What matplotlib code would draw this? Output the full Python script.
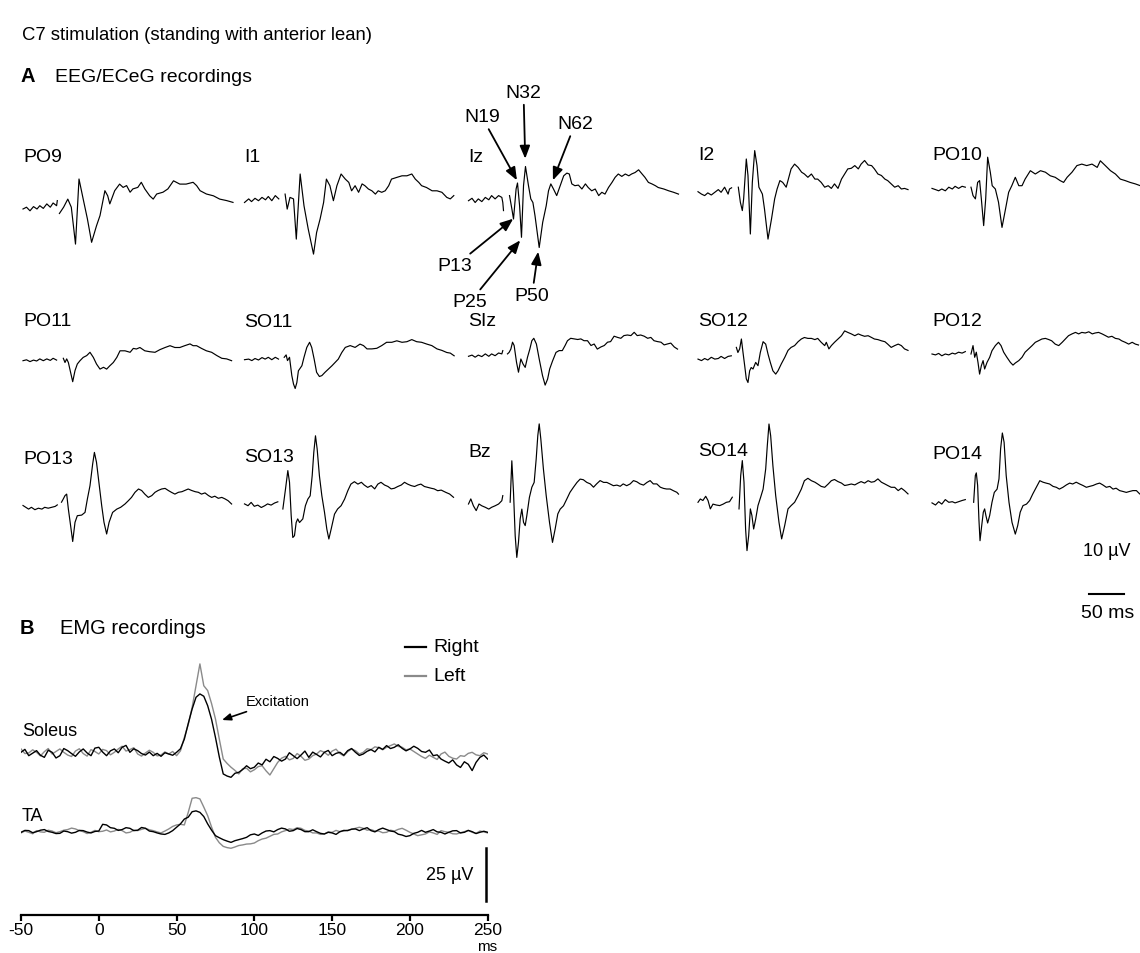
import numpy as np
import matplotlib.pyplot as plt
from matplotlib.lines import Line2D

# C7 stimulation: EEG/ECeG (A) and EMG (B) traces
plt.rcParams['font.family'] = ['Liberation Sans', 'DejaVu Sans']
nan = np.nan

# ---- EEG/ECeG traces: (time ms, amplitude uV), negative = up ----
PO9 = [(-50,0),(-45,-0.6),(-40,0.6),(-35,-0.8),(-30,0),(-26,-1.1),(-21,-0.2),(-16,-1.7),(-11,-0.6),(-7,-2),(-2,-1.1),(-1,-2.8),(0,nan),
       (2,1.5),(8,-0.6),(14,-3.3),(19,-0.6),(25,11.7),(30,-10),(36,-3.3),(42,3.3),(48,11.1),(55,5.6),(60,2.2),(67,-6.1),(71,-4.4),
       (74,-1.7),(81,-6.1),(88,-8.3),(93,-7.2),(98,-7.8),(103,-5.6),(107,-6.7),(114,-7.2),(119,-8.9),(124,-6.7),(131,-4.4),(136,-3.3),
       (141,-5),(150,-5.6),(157,-6.7),(165,-9.4),(174,-8.3),(183,-8.3),(193,-8.9),(198,-7.8),(203,-6.1),(212,-5),(222,-4.4),(231,-3.3),
       (241,-2.8),(250,-2.2)]
I1 = [(-50,0.6),(-44,-0.6),(-40,0.3),(-35,-0.8),(-30,0),(-25,-1.1),(-20,-0.3),(-16,-1.4),(-11,0),(-6,-1.7),(-1,-0.6),(0,nan),
      (8,-2.2),(11,2.8),(15,-1.1),(20,-0.6),(24,12.8),(29.5,-8.9),(35,1.7),(41,9.4),(48.6,17.8),(53,10.6),(58,6.1),(63,0.6),(67,-7.2),
      (72,-5),(77,0),(82,-5),(88,-8.9),(94,-7.2),(99,-6.1),(103,-3.3),(108,-5),(113,-2.8),(118,-5.6),(122,-5),(127,-3.9),(132,-3.3),
      (137,-2.2),(141,-3.3),(146,-2.8),(151,-3.3),(156,-5),(160,-7.2),(168,-7.8),(175,-8.3),(182,-8.3),(189,-8.9),(194,-7.2),(199,-6.1),
      (203,-5),(210,-4.4),(218,-3.3),(225,-3.3),(232,-2.8),(239,-1.1),(244,-0.6),(249,-1.7)]
Iz = [(-50,0),(-45,-0.8),(-40.5,0.6),(-36,-0.6),(-31,0.3),(-26,-1.1),(-21,-0.3),(-17,-1.7),(-12,-0.6),(-7,-1.7),(-2.4,-1.1),(-1,0.6),
      (0,3.3),(0.5,nan),(8.6,-1.7),(12,2.8),(14.3,6.1),(18,-3.9),(20,-5.9),(23,1.7),(25.7,12.2),(28.6,-5),(31.4,-11.4),(35.7,-5),
      (39,-0.6),(42,0.6),(45,5),(51,15.6),(56,7.2),(61,1.7),(64.3,-3.3),(67.6,-5.6),(71.4,-3.9),(76,-1.7),(81,-5),(86,-8.3),(90.5,-9.2),
      (94,-8.9),(97.6,-5.6),(102,-5),(107,-5.2),(112,-3.9),(117,-5.6),(121,-4.4),(126,-3.3),(131,-3.9),(136,-1.7),(140.5,-2.8),
      (145,-2.2),(150,-4.4),(155,-6.1),(159.5,-7.8),(164,-8.9),(169,-8.1),(174,-8.9),(179,-8.3),(183,-8.9),(188,-9.4),(193,-10.3),
      (198,-8.9),(202,-7.8),(207,-6.1),(212,-5.6),(217,-5),(221,-4.4),(229,-3.9),(236,-3.3),(243,-2.8),(250,-2.2)]
I2 = [(-50,-0.2),(-45,0.6),(-40.5,1.1),(-36,0.2),(-31,0.9),(-26,0),(-21,-0.9),(-17,0),(-12,-1.7),(-7,0.6),(-5,-1.1),(-2,-1.5),(0,nan),
      (7.6,-1.7),(10.5,3.3),(13.3,6.1),(15.2,2.2),(19,-11.1),(21.4,-5.6),(24.8,13.9),(27.6,-3.3),(31,-13.9),(34.3,-8.9),(37,-1.7),
      (42,0.6),(45,5.6),(50,15.6),(55,8.9),(59.5,2.2),(63,-1.1),(67,-3.9),(71,-3.3),(76,-1.7),(83,-7.8),(88,-9.4),(93,-8.3),(98,-6.7),
      (102,-6.1),(107,-5),(112,-6.1),(117,-4.4),(121,-4.4),(126,-3.3),(131,-1.7),(136,-2.2),(140.5,-1.3),(145,-2.8),(150,-1.3),
      (155,-4.4),(159.5,-6.1),(164,-7.8),(169,-8),(174,-8.9),(179,-7.8),(183,-9.4),(188,-10.6),(193,-9.1),(198,-8.9),(202,-7.8),
      (207,-6.1),(212,-5.6),(217,-4.4),(221,-3.9),(226,-2.8),(231,-1.7),(236,-2.2),(240.5,-1.1),(245,-1.3),(250,-0.9)]
PO10 = [(-50,-0.2),(-45,0.2),(-40.5,0.6),(-36,0),(-31,0.6),(-26,-0.6),(-21,0),(-17,-0.9),(-12,-0.2),(-7,-0.9),(-2.4,-0.6),(0,nan),
        (5.7,-0.6),(8.6,2.2),(12,3.3),(15.2,-2.2),(18,-2.8),(20.5,3.3),(23.8,12.2),(26.7,3.3),(29.5,-10.6),(33.3,-5.6),(36,-1.1),
        (40.5,0),(45,4.4),(50,12.8),(55,6.7),(59.5,1.1),(64,-1.1),(69,-3.9),(74,-1.1),(78.6,-1.1),(83,-3.3),(90.5,-6.1),(97.6,-5),
        (105,-6.1),(112,-5.6),(119,-4.4),(126,-3.9),(133,-2.8),(138,-2.2),(143,-3.9),(150,-5.6),(157,-7.8),(164,-8.3),(171,-7.8),
        (178.6,-8.3),(186,-7.2),(190.5,-9.4),(197.6,-7.8),(205,-6.1),(212,-5),(219,-3.3),(226,-2.8),(233,-2.2),(240.5,-1.7),(247.6,-1.1)]
PO11 = [(-50,0),(-45,-0.3),(-40,0.3),(-35,-0.2),(-30.5,0.1),(-26,-0.6),(-21,0),(-16,-0.6),(-11,-0.1),(-7,-0.8),(-2,-0.2),(0,nan),
        (7.6,-0.8),(10,0.6),(12.4,-0.6),(14.8,0.6),(18,3.9),(21,7),(24.3,3.3),(27.6,1.1),(31.4,0),(36,-1.1),(41,-1.7),(45.7,-2.8),
        (50.5,-1.1),(55,1.1),(60,2.8),(65,2.2),(69.5,2.8),(74,1.7),(79,0.6),(84,-1.1),(88.6,-3.3),(95.7,-3.3),(103,-2.8),(107.6,-4.1),
        (112,-3.9),(117,-4.4),(124,-3.3),(131,-3),(138.6,-2.8),(145.7,-3.7),(153,-4.4),(160,-5),(167,-4.4),(174,-4.4),(181,-5),
        (188.6,-5.6),(193,-5),(198,-5),(205,-4.1),(212,-3.3),(219.5,-2.8),(227,-1.7),(234,-0.8),(241,-0.6),(248,0)]
SO11 = [(-50,0),(-44,-0.2),(-39.5,0.3),(-35,-0.4),(-30,0.1),(-25,-0.7),(-20.5,-0.2),(-16,-0.8),(-11,0),(-6,-0.8),(-1.4,-0.2),(0,nan),
        (6.7,-0.8),(9.5,-1.6),(11.4,0.3),(14.3,-0.8),(17.6,5.3),(20,8.1),(22.4,9.6),(24.8,7.6),(27,3.7),(32,2),(35,-0.8),(39,-4.1),
        (43,-5.8),(46,-4.1),(49.5,-0.2),(53,4.2),(57,5.6),(60.5,5.3),(65,4.2),(70,3.1),(75,2),(79.5,0.9),(84,-0.2),(89,-2.4),(94,-4.1),
        (101,-4.7),(108,-4.1),(115,-5.2),(120,-4.7),(125,-3.6),(132,-3.6),(139,-3.8),(146,-4.7),(153,-5.8),(160.5,-5.8),(167.6,-6.3),
        (175,-5.8),(182,-6),(189,-6.7),(196,-6),(203,-5.8),(210.5,-5.2),(217.6,-4.7),(225,-3.6),(232,-3.1),(239,-2.4),(244,-2.2),(249.5,-1.3)]
SIz = [(-50,0),(-45,-0.4),(-40.5,0.3),(-36,-0.4),(-31,0.1),(-26,-0.8),(-21,0),(-17,-0.8),(-12,-0.2),(-7,-1.1),(-2.4,-0.8),(-1,-1.9),
       (0,nan),(5.7,-0.8),(8,-1.3),(10.5,-2.4),(12.9,-4.7),(15.2,-3.6),(18.6,2),(21.4,5.3),(24.8,0.9),(28,2.6),(31,3.7),(34.3,0.3),
       (37.6,-2.4),(40.5,-5.2),(43.3,-6),(47,-4.1),(51,0.9),(55.7,6.4),(59.5,9.6),(63,7.6),(66,4.2),(70,1.6),(75,-1.3),(79.5,-1.9),
       (84,-1.9),(88,-3.6),(91.4,-5.2),(96,-6),(101,-5.8),(106,-5.6),(110.5,-5.8),(115,-5.2),(120,-5.2),(125,-3.6),(129.5,-4.1),
       (134,-2.4),(139,-3.1),(144,-3.6),(148.6,-4.7),(153,-4.9),(158,-6.7),(163,-6.3),(167.6,-6),(172,-6.9),(177,-7.1),(182,-6.9),
       (186.7,-8),(191,-6.9),(196,-7.1),(201,-6.7),(206,-6),(210.5,-6.3),(215,-5.2),(220,-4.9),(225,-4.7),(229.5,-3.8),(234,-4.1),
       (239,-4.4),(244,-3.1),(248.6,-2.4)]
SO12 = [(-50,-0.2),(-45,0.3),(-40.5,-0.4),(-36,0.1),(-31,-0.8),(-26,-0.2),(-21,-0.4),(-17,-1.1),(-12,-0.4),(-7,-1.1),(-2.4,-1.3),(0,nan),
        (4.8,-4.1),(7,-2.4),(9.5,-3.6),(12,-6.9),(14.3,-2.4),(16.7,2),(19,6.4),(21.4,7.6),(23.8,3.7),(26,2.6),(28.6,3.1),(32.4,0.9),
        (35.7,2),(39,-2.4),(43,-6),(46.7,-5.2),(50,-1.9),(53.3,0.9),(57,3.7),(61,4.8),(64.3,3.7),(69,1.4),(74,-0.8),(78.6,-3.1),(83,-4.1),
        (88,-4.7),(93,-6),(97.6,-6.9),(102,-7.4),(107,-7.1),(112,-7.1),(117,-6.7),(121,-7.1),(126,-5.8),(131,-4.7),(133.3,-5.8),(137,-3.6),
        (140.5,-4.7),(145,-5.8),(150,-6.9),(155,-8),(159.5,-9.6),(164,-9.1),(169,-8.6),(174,-8),(179,-8.6),(183,-8.2),(188,-7.8),
        (193,-8),(198,-7.4),(202,-6.9),(207,-6.7),(212,-6.3),(217,-6),(221,-5.2),(226,-4.1),(231,-4.7),(236,-5.2),(240.5,-4.7),
        (245,-3.6),(250,-3.1)]
PO12 = [(-50,0),(-45,0.3),(-40.5,-0.2),(-36,0.6),(-31,0),(-26,0.3),(-21,-0.3),(-17,0),(-12,-0.6),(-7,-0.3),(-2.4,-0.8),(0,nan),
        (5.7,0),(8.6,-2.8),(11,1.1),(13.3,-0.6),(15.7,2.8),(18,6.7),(20.5,3.9),(23,2.2),(25.2,5),(28.6,2.8),(32.4,1.1),(35.7,-1.1),
        (40.5,-2.8),(45,-3.9),(48.6,-2.8),(52.4,-0.6),(57,1.1),(62,2.8),(65.7,3.7),(69,3),(74,2.2),(78.6,1.1),(83,-0.6),(88,-1.7),
        (93,-2.8),(97.6,-3.9),(102,-4.4),(107,-5),(112,-5.2),(117,-4.8),(121,-4.4),(126,-3.3),(131,-2.8),(136,-3.9),(140.5,-5),
        (145,-6.1),(150,-6.7),(155,-7.2),(159.5,-6.7),(164,-7.2),(169,-7),(174,-7.4),(179,-6.7),(183,-7),(188,-7.2),(193,-6.7),
        (198,-6.1),(202,-5.6),(207,-5.9),(212,-5.2),(217,-5),(221,-4.4),(226,-3.9),(231,-3.3),(236,-3.9),(240.5,-3.3),(245,-3)]
PO13 = [(-50,-0.6),(-46,0),(-42,0.6),(-38,0),(-33,0.8),(-28,0.3),(-23,0.6),(-19,0),(-14,0.3),(-9,0),(-4,-0.3),(-1,-0.8),(0,nan),
        (5,-1.7),(7.6,-2.8),(10,-3.9),(12.4,-4.4),(14.8,0.6),(18,6.1),(21,11.4),(24.3,5),(27.6,2.8),(33.8,2.6),(38.6,1.7),(42,-2.8),
        (45.7,-7.2),(49.5,-14.4),(52,-18.3),(55,-15),(59,-7.2),(62.4,-0.6),(65.7,5),(69.5,8.9),(73,5),(78,1.7),(84,0.6),(89.5,0),
        (95.7,-1.1),(100.5,-2.2),(105,-3.3),(110,-5),(115,-6.1),(119.5,-5.6),(124,-4.4),(129,-3.3),(134,-3.9),(138.6,-5),(143,-5.6),
        (148,-6.1),(153,-6.3),(157.6,-5.6),(162,-5),(167,-4.4),(172,-5),(177,-5.2),(181,-5.6),(186,-6.1),(191,-5.6),(196,-5.2),
        (200.5,-5),(205,-4.4),(210,-4.8),(215,-3.9),(219.5,-3.3),(224,-3.7),(229,-3),(234,-3.3),(238.6,-2.8),(243,-2.2),(248,-1.1)]
SO13 = [(-50,-0.6),(-45,0),(-40.5,-1.1),(-36,0.2),(-31,-0.2),(-26,0.6),(-21,0),(-17,-0.6),(-12,-0.2),(-7,-0.9),(-2.4,-1.3),(0,nan),
        (4.8,1.1),(8.6,-5.6),(11.9,-11.7),(14.3,-7.8),(16.7,3.3),(19,10.6),(21.4,10),(23.8,5.6),(26,4.4),(28.6,5.6),(33.3,4.4),(37,0),
        (40.5,-2.2),(43.8,-3.3),(46.7,-10),(49,-17.8),(51.4,-23.3),(53.8,-18.9),(57,-10),(60.5,-3.3),(64.3,2.2),(67.6,7.8),(70.5,11.1),
        (73.8,7.8),(78.6,2.8),(83,1.1),(88,0),(93,-2.2),(97.6,-5),(102,-7.2),(107,-8),(112,-7.2),(117,-7.8),(121,-6.9),(126,-6.1),
        (131,-6.7),(136,-5.6),(140.5,-7.2),(145,-7.8),(150,-6.9),(155,-6.4),(159.5,-5.6),(164,-5.8),(169,-6.4),(174,-6.9),(178.6,-7.8),
        (183,-7.2),(188,-6.7),(193,-6.4),(197.6,-6.9),(202,-7.2),(207,-6.4),(212,-6.1),(217,-5.8),(221,-5.6),(226,-5),(231,-5.2),
        (238,-4.4),(243,-3.9),(248.6,-2.8)]
Bz = [(-50,0),(-46.7,-1.7),(-43,0.6),(-39,2.2),(-35,0),(-31,0.6),(-26,1.1),(-21,1.7),(-17,1.1),(-12,0.6),(-7,0),(-2.4,-1.1),(-1,-2.8),
      (0,nan),(9.5,-0.6),(11.9,-14.4),(14.3,-3.9),(16.7,10.6),(19,17.8),(21.4,12.8),(23.8,5),(26.2,1.7),(28.6,6.1),(31,7.2),(33.3,3.9),
      (37,-2.2),(40.5,-5.6),(43.8,-7.2),(46.7,-15),(49,-22.8),(51,-26.7),(53.3,-21.7),(57,-11.7),(61,-2.8),(65.7,6.1),(70,12.8),
      (73.8,8.3),(77.6,3.3),(81,1.7),(85.7,0.6),(90.5,-1.7),(95,-3.9),(100,-5.6),(105,-7.2),(109.5,-8.3),(114,-8.1),(119,-7.2),
      (124,-6.7),(128.6,-5.6),(133,-6.7),(138,-7.8),(143,-7.2),(147.6,-7.2),(152,-6.7),(157,-6.1),(162,-6.3),(166.7,-5.9),(171,-6.7),
      (176,-6.1),(181,-6.7),(185.7,-7.8),(190.5,-7.4),(195,-6.7),(200,-6.3),(205,-7.2),(209.5,-7.8),(214,-6.7),(219,-6.7),(224,-5.6),
      (228.6,-5.2),(233,-5),(238,-5),(243,-4.4),(247.6,-3.9),(250,-3.3)]
SO14 = [(-50,0),(-46.7,-1.1),(-43,-0.6),(-39,-2),(-35.7,-0.6),(-32.4,2.2),(-28.6,0.6),(-24,0.9),(-19,1.1),(-14,0.6),(-9.5,0),(-5,-0.2),
        (-1,-1.7),(0,nan),(8.6,2.2),(11,-8.9),(13.3,-13.9),(15.7,-6.7),(18,8.9),(20,16.1),(22.4,11.1),(24.8,2.2),(27,4.4),(29.5,8.9),
        (32.4,5.6),(35.7,1.1),(39.5,-1.7),(43,-4.4),(46.7,-11.1),(49,-18.9),(51.4,-26.1),(53.8,-22.2),(57,-12.2),(61,-2.2),(65.7,6.7),
        (69.5,12.2),(73.8,7.8),(78.6,2.2),(83,1.1),(88,0),(93,-2.2),(97.6,-4.4),(102,-7.2),(107,-8),(112,-7.2),(117,-6.7),(121,-6.1),
        (126,-5.3),(131,-5),(136,-6.1),(140.5,-7.2),(145,-7.6),(150,-6.9),(155,-6.4),(159.5,-5.6),(164,-5.8),(169,-6.1),(174,-5.8),
        (178.6,-6.4),(183,-6.9),(188,-6.4),(193,-7.2),(197.6,-6.7),(202,-6.9),(207,-7.8),(212,-6.7),(217,-6.1),(221,-5.6),(226,-5),
        (231,-5),(236,-3.9),(240.5,-4.7),(245,-3.9),(250,-2.8)]
PO14 = [(-50,0.2),(-45,0.9),(-40.5,-0.2),(-36,0.6),(-31,-0.9),(-26,0),(-21,-0.2),(-17,0.2),(-12,-0.2),(-7,-0.6),(-2.4,-0.9),(0,nan),
        (9.5,0),(11.9,-8.9),(13.3,-9.8),(15.2,-5.6),(17,5.6),(18.6,12.8),(21,7.8),(23.3,3.3),(25.2,2.2),(27,4.4),(29.5,6.9),(32.4,4.4),
        (35.7,0),(39,-3.3),(43,-4.4),(45.7,-7.8),(48,-17.8),(50.5,-23.1),(53,-20),(56,-8.9),(60,0),(64.3,6.7),(69,10.6),(72.4,7.8),
        (76,3.3),(80,1.1),(85,0.6),(89.5,-0.6),(94,-2.8),(99,-5),(104,-7.2),(108.6,-6.7),(113,-6.4),(118,-6.1),(123,-5.3),(127.6,-5),
        (132,-4.4),(137,-5),(142,-5.8),(146.7,-6.4),(151,-6.1),(156,-6.7),(161,-6.1),(165.7,-5.6),(170.5,-5),(175,-5.3),(180,-5.6),
        (185,-6.1),(189.5,-6.4),(194,-5.8),(199,-5),(204,-5.3),(208.6,-4.4),(213,-4.7),(218,-3.9),(223,-3.6),(227.6,-3.3),(232,-3.6),
        (237,-3.9),(242,-3.9),(246.7,-2.8)]

EEG_NAMES = [['PO9', 'I1', 'Iz', 'I2', 'PO10'],
             ['PO11', 'SO11', 'SIz', 'SO12', 'PO12'],
             ['PO13', 'SO13', 'Bz', 'SO14', 'PO14']]
EEG_DATA = {'PO9': PO9, 'I1': I1, 'Iz': Iz, 'I2': I2, 'PO10': PO10,
            'PO11': PO11, 'SO11': SO11, 'SIz': SIz, 'SO12': SO12, 'PO12': PO12,
            'PO13': PO13, 'SO13': SO13, 'Bz': Bz, 'SO14': SO14, 'PO14': PO14}

# Iz component labels: (name, peak time, peak uV, label time, label uV)
IZ_PEAKS = [('N19', 19.2, -6.8, -31, -28), ('N32', 31, -14, 28.6, -36.2),
            ('N62', 70.6, -6.8, 102.4, -25.7), ('P13', 13.9, 6, -69, 21.7),
            ('P25', 23.9, 13.2, -47.6, 33.7), ('P50', 49.6, 17, 40.6, 31.6)]

# ---- EMG traces (uV, positive = up), 2.5 ms steps, one row = 20 ms ----
EMG_T = np.arange(-50, 250.1, 2.5)
SOL_RIGHT = [0.8, 2.2, -0.8, 0.4, 1.6, -0.6, -1.6, 1.8,
             0.8, -1.9, -0.8, 2.6, 1.6, 0.2, -1.1, 1.0,
             2.4, 0.5, -0.8, 2.8, 3.2, 0.9, -0.8, 1.5,
             2.4, 0.6, 3.2, 4.1, 0.8, 2.5, 1.6, 0.2,
             -0.5, 0.9, -0.8, 0.3, -1.1, 0.6, 0, -0.6,
             0.8, 2.5, 7.1, 14.5, 21.4, 27.0, 28.6, 27.5,
             23, 16.5, 7.9, -1.5, -9.5, -10.5, -11.1, -9.2,
             -8.7, -7.4, -5.6, -7.0, -6.3, -4.3, -5.2, -2.5,
             -3.7, -1.2, -2.1, -3.4, -2.4, 0.6, -0.8, -2.2,
             -0.5, 1.4, -1.6, 0.9, -0.2, -1.4, 0.8, 1.7,
             -0.8, 0.3, 0.8, -0.6, 1.6, 2.6, 0.8, -0.7,
             0, 1.3, 2.1, 1.0, 3.2, 2.2, 4, 2.6,
             3.2, 4.4, 2.7, 1.5, 2.4, 3.7, 2.7, 1.2,
             0.8, 1.9, -0.8, -0.4, -2.4, -3.4, -4.3, -2.8,
             -5.2, -6.4, -3.7, -4.9, -7.9, -4.0, -1.6, -0.5,
             -2.4]
SOL_LEFT = [2.4, 0.2, 0.5, 2.0, 0.8, -0.9, 1.1, 2.6,
            0, 1.2, 2.4, 0.8, -0.5, -1.2, 1.4, 2.5,
            0.2, -1.0, 2.1, 1.2, 0, 2.2, 1.6, -0.4,
            0.8, 2.4, 3.7, 1.4, 2.1, 3.0, 0, -1.0,
            0.5, 1.8, 0.8, -0.9, -0.5, 1.0, 0, 1.2,
            -0.8, 1.5, 7.9, 14.0, 22.2, 32.5, 42.9, 32.5,
            30.2, 24.0, 16.7, 7.0, -2.4, -4.5, -6.3, -7.8,
            -9.5, -7.0, -6.8, -8.5, -7.5, -6.0, -5.6, -8.0,
            -10, -7.0, -4, -2.0, -1.1, -2.8, -2.1, 0.2,
            -1.1, -3.0, -2.4, -0.8, 0, 1.6, 0.8, -0.6,
            1.4, 2.3, 0.2, -0.9, 1.1, 2.4, 1.6, 0,
            0.8, 2.5, 2.1, 3.4, 3, 2.0, 3.2, 4.0,
            4.8, 3.6, 3.2, 2.0, 2.4, 1.2, 0, -1.2,
            -2.1, -0.6, -1.6, -2.6, 0, 0.9, -1.1, -2.0,
            -2.4, -0.8, -1.1, 0.3, 0.8, -0.4, -0.8, 0.6,
            0]
TA_RIGHT = [0, 0.9, 0.8, -0.2, 0.3, 1.0, 1.3, 0.4,
            0, -0.6, -0.5, 0.6, 0.3, -0.4, 0, 0.9,
            0.8, 0.1, -0.3, 0.4, 0.6, 3.8, 3.5, 2.2,
            1.9, 0.9, 1.3, 2.2, 1.9, 0.8, 1, 2.3,
            1.9, 0.6, 0.3, -0.3, -0.8, -1.0, -0.3, 0.8,
            2.4, 4.0, 6.3, 7.2, 9.8, 10.2, 9.5, 7.5,
            4, 1.0, -1.6, -2.6, -3.5, -4.2, -4.8, -4.0,
            -3.5, -3.0, -2.4, -1.2, -0.8, -1.5, -0.3, 0.6,
            0.8, 0.2, 1.3, 2.0, 1.6, 0.5, 0.8, 1.8,
            1.3, 0.3, 0.3, 1.2, 0.3, -0.5, -0.8, 0,
            -0.3, -1.0, 0.3, 0.9, 0.8, 1.5, 1.6, 0.8,
            1.6, 2.2, 0.8, 0.2, 1.3, 2.0, 1.3, 0.6,
            0.3, -0.9, -1.3, -2.0, -1.6, -0.5, 0, 0.9,
            0, 0.6, 1.3, 0.2, 0, -0.8, 0, 0.7,
            0.8, -0.3, 0, 0.9, 0.3, -0.6, 0, 0.5,
            0]
TA_LEFT = [-0.3, 0.6, 0, -0.7, 0.8, 0.2, 0, 1.0,
           0.6, -0.2, 0.3, 1.0, 1.3, 2.0, 1.6, 0.8,
           0.3, -0.6, 0, 0.9, 0.3, 0.5, 1.1, 0.2,
           0.6, 1.4, 0.8, -0.3, 0, 1.0, 0.8, 1.4,
           1.9, 1.2, 0.8, 0.2, -0.3, 0.6, 1.6, 2.8,
           3.5, 3.8, 3.5, 9.5, 16.2, 16.5, 15.9, 12.0,
           7.9, 2.5, -2.4, -5.0, -6.7, -7.3, -7.6, -7.0,
           -6.3, -6.0, -5.6, -5.5, -5.1, -4.0, -3.2, -2.8,
           -1.9, -1.0, -0.8, 0.2, 0.8, 1.6, 1.3, 2.2,
           1.9, 0.9, 0.6, -0.3, -0.3, -1.0, -0.8, 0.2,
           0, 0.9, 0.3, 0.6, 1, 1.4, 1.9, 2.4,
           1.9, 1.0, 1.3, 0.6, 0.6, -0.2, 0, 1.0,
           0.6, 1.4, 1.9, 1.0, 0, -0.8, -1.6, -1.2,
           -0.8, 0.2, -0.3, -1.0, 0.8, 0.3, 0, -0.7,
           -0.8, -0.2, 0.3, 0.9, 0, -0.5, 0.6, 0.2,
           -0.3]
EMG_TICKS = [-50, 0, 50, 100, 150, 200, 250]

# ---- layout (pixels) ----
W, H = 1140, 954
fig = plt.figure(figsize=(W / 100, H / 100), dpi=100)


def fx(x):
    return x / W


def fy(y):
    return 1 - y / H


COL_X = [23, 244.5, 468.5, 698, 932]
BASE_Y = [[210, 201.7, 201.7, 193.3, 190],
          [361.7, 360.7, 357.3, 360.7, 355],
          [508.3, 506.7, 505, 503.3, 503.3]]
LABEL_Y = [[158, 158, 157, 155, 155],
           [321, 323, 321, 322, 322],
           [460, 458, 453, 452, 455]]
PX_PER_UV = 3.0
TRACE_W = 210
HALF = 75

fig.text(fx(22), fy(36), 'C7 stimulation (standing with anterior lean)', fontsize=13.3, va='center')
fig.text(fx(21), fy(77), 'A', fontsize=14.5, fontweight='bold', va='center')
fig.text(fx(55), fy(77), 'EEG/ECeG recordings', fontsize=14, va='center')

axes = {}
for r, row in enumerate(EEG_NAMES):
    for c, name in enumerate(row):
        base = BASE_Y[r][c]
        ax = fig.add_axes([fx(COL_X[c]), fy(base + HALF), TRACE_W / W, 2 * HALF / H])
        ax.set_xlim(-50, 250)
        ax.set_ylim(HALF / PX_PER_UV, -HALF / PX_PER_UV)
        ax.axis('off')
        t, v = np.array(EEG_DATA[name], dtype=float).T
        ax.plot(t, v, color='k', lw=0.85, clip_on=False)
        fig.text(fx(COL_X[c]), fy(LABEL_Y[r][c]), name, fontsize=14, va='center')
        axes[name] = ax

ax_iz = axes['Iz']
for lab, tp, vp, tl, vl in IZ_PEAKS:
    ax_iz.annotate(lab, xy=(tp, vp), xytext=(tl, vl), fontsize=14, ha='center', va='center',
                   annotation_clip=False,
                   arrowprops=dict(arrowstyle='-|>,head_length=0.55,head_width=0.22',
                                   color='k', lw=1.3, shrinkA=1, shrinkB=0))

# scale bar for EEG
fig.text(fx(1107), fy(552), '10 µV', fontsize=13, ha='center', va='center')
fig.add_artist(Line2D([fx(1089), fx(1089 + 50 * 0.7)], [fy(595), fy(595)], color='k', lw=1.5))
fig.text(fx(1108), fy(614), '50 ms', fontsize=14, ha='center', va='center')

# ---- EMG panel ----
fig.text(fx(20), fy(628), 'B', fontsize=14.5, fontweight='bold', va='center')
fig.text(fx(60), fy(628), 'EMG recordings', fontsize=14.5, va='center')

EMG_PX_PER_UV = 2.1
axis_y = 915.7
top_y = 640
emg = fig.add_axes([fx(21), fy(axis_y), fx(487.7) - fx(21), (axis_y - top_y) / H])
emg.set_xlim(-50, 250)
emg.set_ylim(0, (axis_y - top_y) / EMG_PX_PER_UV)
sol_off = (axis_y - 755) / EMG_PX_PER_UV
ta_off = (axis_y - 833.3) / EMG_PX_PER_UV
gray = '#8a8a8a'
emg.plot(EMG_T, np.array(SOL_LEFT) + sol_off, color=gray, lw=1.0)
emg.plot(EMG_T, np.array(SOL_RIGHT) + sol_off, color='k', lw=1.0)
emg.plot(EMG_T, np.array(TA_LEFT) + ta_off, color=gray, lw=1.0)
emg.plot(EMG_T, np.array(TA_RIGHT) + ta_off, color='k', lw=1.0)
for s in ['left', 'right', 'top']:
    emg.spines[s].set_visible(False)
emg.spines['bottom'].set_linewidth(1.6)
emg.set_yticks([])
emg.set_xticks(EMG_TICKS)
emg.set_xticklabels([str(v) for v in EMG_TICKS], fontsize=12.5)
emg.tick_params(axis='x', direction='out', length=4, width=1.6, pad=1)
emg.patch.set_visible(False)

fig.text(fx(487), fy(947), 'ms', fontsize=11, ha='center', va='center')
fig.text(fx(22), fy(732), 'Soleus', fontsize=13, va='center')
fig.text(fx(22), fy(817), 'TA', fontsize=13, va='center')

# 25 uV scale bar
bar_lo = (axis_y - 901.7) / EMG_PX_PER_UV
emg.plot([249, 249], [bar_lo, bar_lo + 25], color='k', lw=1.8, clip_on=False)
emg.text(240.5, bar_lo + 12.5, '25 µV', fontsize=13, ha='right', va='center')

# excitation arrow
emg.annotate('Excitation', xy=(79.2, (axis_y - 721) / EMG_PX_PER_UV),
             xytext=(94.6, (axis_y - 702) / EMG_PX_PER_UV), fontsize=10.5, ha='left', va='center',
             arrowprops=dict(arrowstyle='-|>,head_length=0.5,head_width=0.2', color='k', lw=1.2,
                             shrinkA=2, shrinkB=0))

# legend
fig.add_artist(Line2D([fx(405), fx(426)], [fy(648), fy(648)], color='k', lw=1.6))
fig.add_artist(Line2D([fx(405), fx(426)], [fy(677), fy(677)], color=gray, lw=1.6))
fig.text(fx(433), fy(648), 'Right', fontsize=14, va='center')
fig.text(fx(433), fy(677), 'Left', fontsize=14, va='center')

fig.savefig('out.png', dpi=100)
